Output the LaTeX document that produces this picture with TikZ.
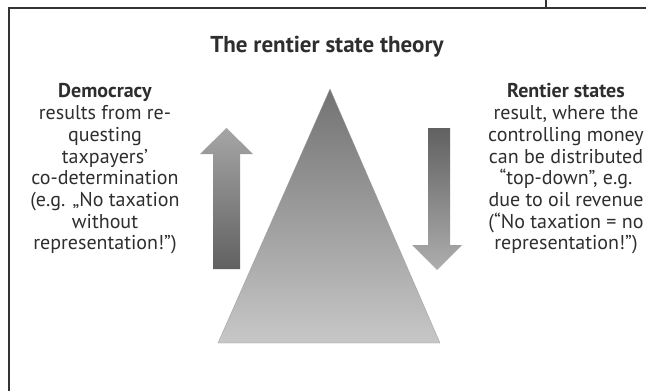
\documentclass[tikz,border=0pt]{standalone}
\usepackage{fontspec}
\setmainfont{PT Sans}
\definecolor{ink}{HTML}{2E2E2E}
\tikzset{
  sidetext/.style={align=center, text=ink, font=\fontsize{20}{21.7}\selectfont, inner sep=0pt},
  frameline/.style={line width=1.4pt, color=black!80}
}

\begin{document}
\begin{tikzpicture}[x=1pt, y=-1pt]
	%%%%% START %%%%%
	\useasboundingbox (0, 0) rectangle (646, 391);
	
	\draw[frameline] (9, 391) -- (9, 8) -- (646, 8);
	\draw[frameline] (546, 0) -- (546, 8);
	
	\node[text=ink, font=\fontsize{23}{26}\selectfont\bfseries] (title) at (327, 47) {The rentier state theory};
	
	% pyramid
	\shade[top color=black!55, bottom color=black!22, draw=black!40, line width=0.3pt] (330, 89) -- (440, 343) -- (218, 343) -- cycle;
	
	% arrow up
	\shade[top color=black!35, bottom color=black!62] (213, 269) -- (213, 154) -- (200, 154) -- (226.5, 128) -- (253, 154) -- (240, 154) -- (240, 269) -- cycle;
	
	% arrow down
	\shade[top color=black!62, bottom color=black!32] (428, 128) -- (450, 128) -- (450, 245) -- (462, 245) -- (437, 270) -- (412, 245) -- (428, 245) -- cycle;
	
	\node[sidetext] (democracy) at (105, 169) {\textbf{Democracy}\\results from re-\\questing\\taxpayers’\\co-determination\\(e.g. „No taxation\\without\\representation!”)};
	\node[sidetext] (rentier) at (566, 169) {\textbf{Rentier states}\\result, where the\\controlling money\\can be distributed\\“top-down”, e.g.\\due to oil revenue\\(“No taxation = no\\representation!”)};
	
	%%%%% END %%%%%
\end{tikzpicture}
\end{document}
